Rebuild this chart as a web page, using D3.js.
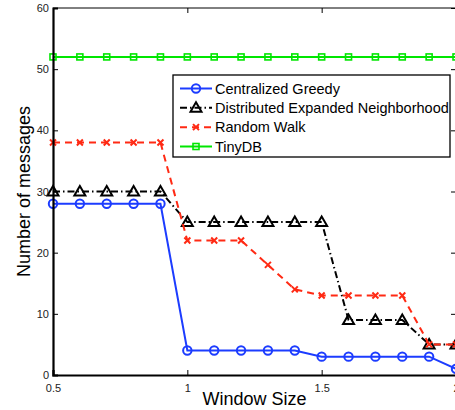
<!DOCTYPE html>
<html>
<head>
<meta charset="utf-8">
<script src="https://cdn.jsdelivr.net/npm/d3@7"></script>
<style>
  body { margin: 0; background: #fff; }
  svg { display: block; font-family: "Liberation Sans", Arial, sans-serif; }
</style>
</head>
<body>
<div class="canvas"></div>
<script>
// window sizes along x
const windowSizes = [0.5, 0.6, 0.7, 0.8, 0.9, 1.0, 1.1, 1.2, 1.3, 1.4, 1.5, 1.6, 1.7, 1.8, 1.9, 2.0];

// message counts per method
const centralizedGreedy = [28, 28, 28, 28, 28, 4, 4, 4, 4, 4, 3, 3, 3, 3, 3, 1];
const distributedExpanded = [30, 30, 30, 30, 30, 25, 25, 25, 25, 25, 25, 9, 9, 9, 5, 5];
const randomWalk = [38, 38, 38, 38, 38, 22, 22, 22, 18, 14, 13, 13, 13, 13, 5, 5];
const tinyDB = [52, 52, 52, 52, 52, 52, 52, 52, 52, 52, 52, 52, 52, 52, 52, 52];

const seriesNames = ['Centralized Greedy', 'Distributed Expanded Neighborhood', 'Random Walk', 'TinyDB'];
const xTicks = [0.5, 1, 1.5, 2];
const yTicks = [0, 10, 20, 30, 40, 50, 60];

const dims = { width: 455, height: 410 };
const plot = { left: 53, right: 456, top: 8, bottom: 375 };

const styles = [
  { color: '#1c3cff', dash: null, marker: 'circle' },
  { color: '#000000', dash: '7,3,1.5,3', marker: 'triangle' },
  { color: '#ff2a14', dash: '7,5', marker: 'x' },
  { color: '#00e600', dash: null, marker: 'square' }
];

const series = [centralizedGreedy, distributedExpanded, randomWalk, tinyDB].map((vals, i) => ({
  name: seriesNames[i],
  style: styles[i],
  points: vals.map((v, j) => ({ x: windowSizes[j], y: v }))
}));

const svg = d3.select('.canvas')
  .append('svg')
  .attr('width', dims.width)
  .attr('height', dims.height);

const x = d3.scaleLinear().domain([0.5, 2]).range([plot.left, plot.right]);
const y = d3.scaleLinear().domain([0, 60]).range([plot.bottom, plot.top]);

// box edges (top and right thin)
svg.append('line')
  .attr('x1', plot.left).attr('x2', plot.right)
  .attr('y1', plot.top).attr('y2', plot.top)
  .attr('stroke', '#000').attr('stroke-width', 1);
svg.append('line')
  .attr('x1', plot.right).attr('x2', plot.right)
  .attr('y1', plot.top).attr('y2', plot.bottom)
  .attr('stroke', '#000').attr('stroke-width', 1);

// inward ticks on top and right
const topAxis = svg.append('g')
  .attr('transform', `translate(0,${plot.top})`)
  .call(d3.axisTop(x).tickValues(xTicks).tickSize(-5).tickFormat(''));
const rightAxis = svg.append('g')
  .attr('transform', `translate(${plot.right},0)`)
  .call(d3.axisRight(y).tickValues(yTicks).tickSize(-5).tickFormat(''));
[topAxis, rightAxis].forEach(g => {
  g.select('.domain').remove();
  g.selectAll('line').attr('stroke-width', 1);
});

// lines and markers
const line = d3.line().x(d => x(d.x)).y(d => y(d.y));

const groups = svg.selectAll('g.series')
  .data(series)
  .enter()
  .append('g')
  .attr('class', 'series');

groups.append('path')
  .attr('d', d => line(d.points))
  .attr('fill', 'none')
  .attr('stroke', d => d.style.color)
  .attr('stroke-width', 2)
  .attr('stroke-dasharray', d => d.style.dash);

const drawMarker = (sel, kind, color) => {
  if (kind === 'circle') {
    sel.append('circle').attr('r', 4.2)
      .attr('fill', 'none').attr('stroke', color).attr('stroke-width', 2);
  } else if (kind === 'triangle') {
    sel.append('path').attr('d', 'M0,-5.5L5.5,4L-5.5,4Z')
      .attr('fill', 'none').attr('stroke', color).attr('stroke-width', 2);
  } else if (kind === 'x') {
    sel.append('path').attr('d', 'M-3,-3L3,3M-3,3L3,-3')
      .attr('fill', 'none').attr('stroke', color).attr('stroke-width', 2);
  } else {
    sel.append('rect').attr('x', -3).attr('y', -3).attr('width', 6).attr('height', 6)
      .attr('fill', 'none').attr('stroke', color).attr('stroke-width', 1.6);
  }
};

groups.each(function(s) {
  d3.select(this).selectAll('g.mk')
    .data(s.points)
    .enter()
    .append('g')
    .attr('class', 'mk')
    .attr('transform', d => `translate(${x(d.x)},${y(d.y)})`)
    .each(function() { drawMarker(d3.select(this), s.style.marker, s.style.color); });
});

// left and bottom axes
const xAxis = svg.append('g')
  .attr('transform', `translate(0,${plot.bottom})`)
  .call(d3.axisBottom(x).tickValues(xTicks).tickSize(-5).tickPadding(9).tickFormat(d => d));
const yAxis = svg.append('g')
  .attr('transform', `translate(${plot.left},0)`)
  .call(d3.axisLeft(y).tickValues(yTicks).tickSize(-5).tickPadding(4));

[xAxis, yAxis].forEach(g => {
  g.select('.domain').attr('stroke', '#000').attr('stroke-width', 2.2);
  g.selectAll('line').attr('stroke-width', 1);
  g.selectAll('text')
    .attr('font-family', '"Liberation Sans", Arial, sans-serif')
    .attr('font-size', 11)
    .attr('fill', '#222');
});

// axis labels
svg.append('text')
  .attr('x', (plot.left + plot.right) / 2)
  .attr('y', 405)
  .attr('text-anchor', 'middle')
  .attr('font-size', 18)
  .text('Window Size');

svg.append('text')
  .attr('transform', `translate(30,${(plot.top + plot.bottom) / 2}) rotate(-90)`)
  .attr('text-anchor', 'middle')
  .attr('font-size', 18)
  .text('Number of messages');

// legend
const legendBox = { x: 173, y: 75, w: 277, h: 82 };
const legendGroup = svg.append('g')
  .attr('transform', `translate(${legendBox.x},${legendBox.y})`);

legendGroup.append('rect')
  .attr('width', legendBox.w)
  .attr('height', legendBox.h)
  .attr('fill', '#fff')
  .attr('stroke', '#000')
  .attr('stroke-width', 1.3);

const rowY = d3.scalePoint().domain(seriesNames).range([13.5, 71.5]);

const items = legendGroup.selectAll('g.item')
  .data(series)
  .enter()
  .append('g')
  .attr('class', 'item')
  .attr('transform', d => `translate(0,${rowY(d.name)})`);

items.append('line')
  .attr('x1', 7).attr('x2', 39)
  .attr('stroke', d => d.style.color)
  .attr('stroke-width', 2)
  .attr('stroke-dasharray', d => d.style.dash);

items.each(function(s) {
  const m = d3.select(this).append('g').attr('transform', 'translate(23,0)');
  drawMarker(m, s.style.marker, s.style.color);
});

items.append('text')
  .attr('x', 42)
  .attr('dy', '0.35em')
  .attr('font-size', 14.5)
  .text(d => d.name);
</script>
</body>
</html>
